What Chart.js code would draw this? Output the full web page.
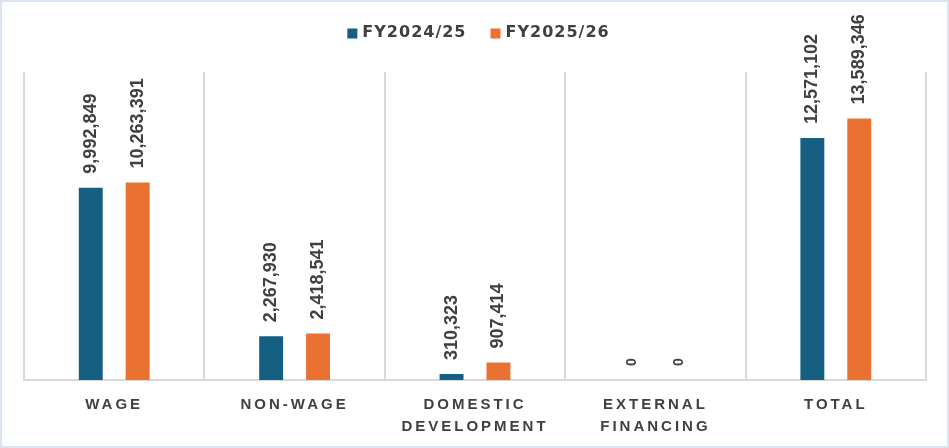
<!DOCTYPE html>
<html><head><meta charset="utf-8">
<script src="https://cdn.jsdelivr.net/npm/chart.js@4.4.1/dist/chart.umd.min.js"></script>
<style>
html,body{margin:0;padding:0;background:#dae3f0;width:949px;height:448px;overflow:hidden;}
#wrap{position:absolute;left:2px;top:2px;width:945px;height:444px;background:#ffffff;}
canvas{display:block;}
</style></head><body>
<div id="wrap"><canvas id="c" width="945" height="444"></canvas></div>
<script>
// ---- data ----
const categories = [['WAGE'], ['NON-WAGE'], ['DOMESTIC', 'DEVELOPMENT'], ['EXTERNAL', 'FINANCING'], ['TOTAL']];
const seriesNames = ['FY2024/25', 'FY2025/26'];
const fy2024_25 = [9992849, 2267930, 310323, 0, 12571102];
const fy2025_26 = [10263391, 2418541, 907414, 0, 13589346];
const yAxisMin = 0;
const yAxisMax = 16000000;

const colors = ['#156082', '#E97132'];
const textColor = '#404040';

const spacingPlugin = {
  id: 'spacing',
  beforeDraw(chart) { chart.ctx.letterSpacing = '3px'; },
  beforeDatasetsDraw(chart) { chart.ctx.letterSpacing = '0px'; }
};

const labelPlugin = {
  id: 'labels',
  afterDatasetsDraw(chart) {
    const ctx = chart.ctx;
    ctx.save();
    ctx.letterSpacing = '0px';
    chart.data.datasets.forEach((ds, di) => {
      const meta = chart.getDatasetMeta(di);
      meta.data.forEach((bar, i) => {
        const v = ds.data[i];
        ctx.save();
        ctx.translate(bar.x, bar.y - 14);
        ctx.rotate(-Math.PI / 2);
        ctx.font = (v === 0 ? 'bold 14px' : 'bold 18px') + ' "Liberation Sans", Arial, sans-serif';
        ctx.fillStyle = textColor;
        ctx.textAlign = 'left';
        ctx.textBaseline = 'middle';
        ctx.fillText(v.toLocaleString('en-US'), 0, 0);
        ctx.restore();
      });
    });
    // legend
    ctx.font = 'bold 16px "DejaVu Sans", sans-serif';
    ctx.letterSpacing = '1px';
    const box = 10, gap = 5, itemGap = 24;
    const widths = chart.data.datasets.map(d => ctx.measureText(d.label).width);
    const total = widths.reduce((a, w) => a + box + gap + w, 0) + itemGap * (widths.length - 1);
    let x = chart.width / 2 + 4 - total / 2;
    const yBase = 34.5;
    chart.data.datasets.forEach((d, di) => {
      ctx.fillStyle = d.backgroundColor;
      ctx.fillRect(x, 26.5, box, box);
      x += box + gap;
      ctx.fillStyle = textColor;
      ctx.textAlign = 'left';
      ctx.textBaseline = 'alphabetic';
      ctx.fillText(d.label, x, yBase);
      x += widths[di] + itemGap;
    });
    ctx.restore();
  }
};

new Chart(document.getElementById('c'), {
  type: 'bar',
  data: {
    labels: categories,
    datasets: [
      { label: seriesNames[0], data: fy2024_25, backgroundColor: colors[0] },
      { label: seriesNames[1], data: fy2025_26, backgroundColor: colors[1] }
    ]
  },
  options: {
    responsive: false,
    animation: false,
    devicePixelRatio: 1,
    layout: { padding: { left: 22, right: 21, top: 70, bottom: -6 } },
    datasets: { bar: { categoryPercentage: 0.52, barPercentage: 0.51 } },
    plugins: { legend: { display: false }, tooltip: { enabled: false } },
    scales: {
      x: {
        grid: { display: true, color: '#d9d9d9', lineWidth: 2, drawTicks: false, offset: true },
        border: { display: true, color: '#d9d9d9', width: 2 },
        ticks: {
          color: textColor, padding: 14, maxRotation: 0, autoSkip: false,
          font: { family: '"Liberation Sans", Arial, sans-serif', size: 15, weight: 'bold', lineHeight: '22px' }
        }
      },
      y: { display: false, min: yAxisMin, max: yAxisMax }
    }
  },
  plugins: [spacingPlugin, labelPlugin]
});
</script>
</body></html>
